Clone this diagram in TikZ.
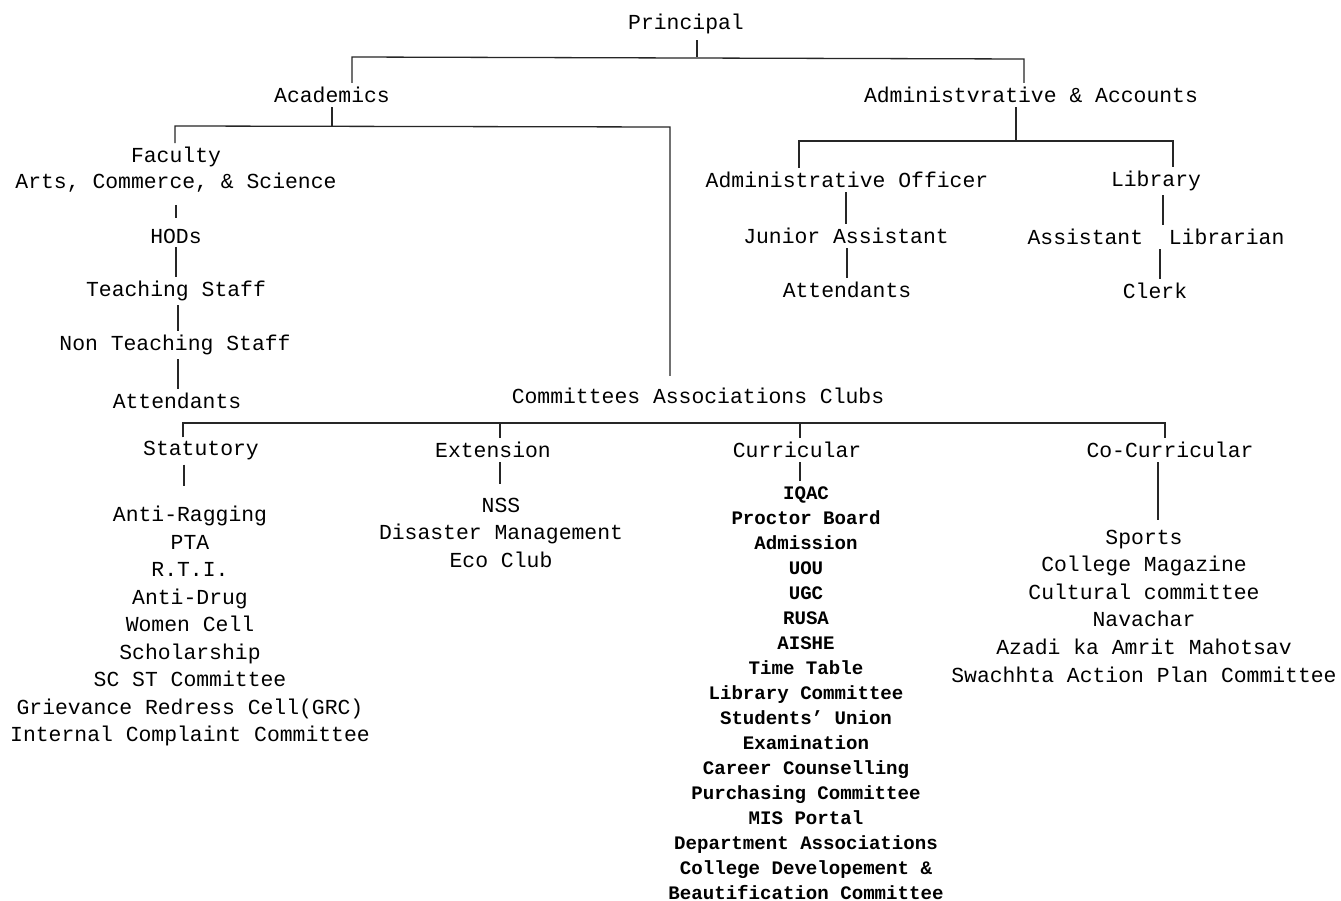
\documentclass[tikz,border=0pt]{standalone}
\usepackage{fontspec}
\newfontfamily\cour{Liberation Mono}
\begin{document}
\begin{tikzpicture}[x=1pt,y=-1pt,
  lbl/.style={font=\cour\fontsize{21.4}{27.5}\selectfont, inner sep=4pt, align=center},
  blbl/.style={font=\cour\bfseries\fontsize{19.1}{25}\selectfont, inner sep=4pt, align=center},
  conn/.style={line width=1.3pt, draw=black!85}]
\fill[white] (0,0) rectangle (1341,901);
\useasboundingbox (0,0) rectangle (1341,901);

% nodes
\node[lbl] (principal) at (686,24) {Principal};
\node[lbl] (academics) at (332,95) {Academics};
\node[lbl] (admin) at (1031,95) {Administvrative \& Accounts};
\node[lbl, font=\cour\fontsize{21.4}{26}\selectfont] (faculty) at (176,170) {Faculty\\Arts, Commerce, \& Science};
\node[lbl] (hods) at (176,236) {HODs};
\node[lbl] (teaching) at (176,291) {Teaching Staff};
\node[lbl] (nonteach) at (175,345) {Non Teaching Staff};
\node[lbl] (attendA) at (177,401) {Attendants};
\node[lbl] (cac) at (698,396) {Committees Associations Clubs};
\node[lbl] (adminoff) at (847,180) {Administrative Officer};
\node[lbl] (junior) at (846,236) {Junior Assistant};
\node[lbl] (attendB) at (847,290) {Attendants};
\node[lbl] (library) at (1156,181) {Library};
\node[lbl] (asstlib) at (1156,237) {Assistant\ \ Librarian};
\node[lbl] (clerk) at (1155,291) {Clerk};
\node[lbl] (statutory) at (201,451) {Statutory};
\node[lbl] (extension) at (493,450) {Extension};
\node[lbl] (curricular) at (797,450) {Curricular};
\node[lbl] (cocurr) at (1170,450) {Co-Curricular};

\node[lbl] (statlist) at (190,626) {Anti-Ragging\\PTA\\R.T.I.\\Anti-Drug\\Women Cell\\Scholarship\\SC ST Committee\\Grievance Redress Cell(GRC)\\Internal Complaint Committee};
\node[lbl] (extlist) at (501,532.5) {NSS\\Disaster Management\\Eco Club};
\node[blbl] (curlist) at (806,693) {IQAC\\Proctor Board\\Admission\\UOU\\UGC\\RUSA\\AISHE\\Time Table\\Library Committee\\Students’ Union\\Examination\\Career Counselling\\Purchasing Committee\\MIS Portal\\Department Associations\\College Developement \&\\Beautification Committee};
\node[lbl, font=\cour\fontsize{21.4}{27.6}\selectfont] (colist) at (1144,606) {Sports\\College Magazine\\Cultural committee\\Navachar\\Azadi ka Amrit Mahotsav\\Swachhta Action Plan Committee};

% junction coordinates
\coordinate (jP) at (697,57);
\coordinate (jPl) at (352,57);
\coordinate (jPr) at (1024,59);
\coordinate (jA) at (332,126);
\coordinate (jAl) at (175,126);
\coordinate (jAr) at (670,127);
\coordinate (jB) at (1016,140);
\coordinate (jBl) at (799,141);
\coordinate (jBr) at (1173,141);
\coordinate (jS) at (183,423);
\coordinate (jE) at (500,423);
\coordinate (jCu) at (800,423);
\coordinate (jCo) at (1165,423);
\coordinate (eS) at (184,486);
\coordinate (eE) at (500,484);
\coordinate (eCu) at (800,481);
\coordinate (eCo) at (1158,520);

% connectors
\draw[conn] ([yshift=-2pt]principal.south -| jP) -- (jP);
\draw[conn] (academics.north -| jPl) -- (jPl) -- (jPr) -- (admin.north -| jPr);
\draw[conn] (academics.south -| jA) -- (jA);
\draw[conn] (faculty.north -| jAl) -- (jAl) -- (jAr) -- ([yshift=8pt]cac.north -| jAr);
\draw[conn] ([yshift=-8pt]faculty.south -| 176,0) -- ([yshift=7pt]hods.north -| 176,0);
\draw[conn] (hods.south -| 176,0) -- (teaching.north -| 176,0);
\draw[conn] (teaching.south -| 178,0) -- (nonteach.north -| 178,0);
\draw[conn] (nonteach.south -| 178,0) -- (attendA.north -| 178,0);

\draw[conn] (admin.south -| jB) -- (jB);
\draw[conn] (adminoff.north -| jBl) -- (jBl) -- (jBr) -- (library.north -| jBr);
\draw[conn] (adminoff.south -| 846,0) -- (junior.north -| 846,0);
\draw[conn] (junior.south -| 847,0) -- (attendB.north -| 847,0);
\draw[conn] (library.south -| 1163,0) -- (asstlib.north -| 1163,0);
\draw[conn] (asstlib.south -| 1160,0) -- (clerk.north -| 1160,0);

\draw[conn] (statutory.north -| jS) -- (jS) -- (jCo) -- (cocurr.north -| jCo);
\draw[conn] (extension.north -| jE) -- (jE);
\draw[conn] (curricular.north -| jCu) -- (jCu);
\draw[conn] (statutory.south -| eS) -- (eS);
\draw[conn] (extension.south -| eE) -- (eE);
\draw[conn] (curricular.south -| eCu) -- (eCu);
\draw[conn] (cocurr.south -| eCo) -- (eCo);
\end{tikzpicture}
\end{document}
